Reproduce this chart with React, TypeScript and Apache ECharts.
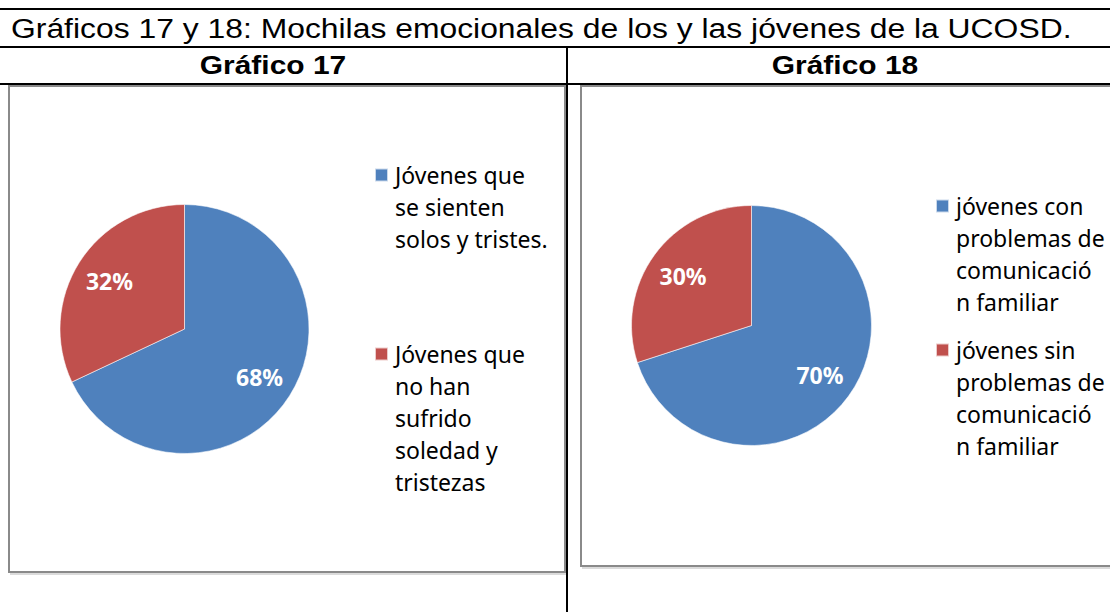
import React, { useEffect, useRef } from "react";
import * as echarts from "echarts";

const titleText = "Gráficos 17 y 18: Mochilas emocionales de los y las jóvenes de la UCOSD.";
const headerLeft = "Gráfico 17";
const headerRight = "Gráfico 18";

const chart17Labels = [
  "Jóvenes que\nse sienten\nsolos y tristes.",
  "Jóvenes que\nno han\nsufrido\nsoledad y\ntristezas",
];
const chart17Values = [68, 32];

const chart18Labels = [
  "jóvenes con\nproblemas de\ncomunicació\nn familiar",
  "jóvenes sin\nproblemas de\ncomunicació\nn familiar",
];
const chart18Values = [70, 30];

const sliceColors = ["#4F81BD", "#C0504D"];

const LH = 32;
const LEGEND_FONT = 23;

function legendFor(name: string, color: string, left: number, iconCenter: number) {
  const n = name.split("\n").length;
  const blockH = (2 * n - 1) * LH;
  return {
    show: true,
    orient: "vertical",
    left,
    top: iconCenter - blockH / 2,
    padding: 0,
    itemWidth: 13,
    itemHeight: 13,
    icon: "rect",
    selectedMode: false,
    formatter: (nm: string) => "\n".repeat(nm.split("\n").length - 1) + nm,
    textStyle: {
      fontFamily: "Noto Sans",
      fontSize: LEGEND_FONT,
      lineHeight: LH,
      color: "#000",
      padding: [0, 0, 0, 2],
    },
    data: [{ name, icon: "rect", itemStyle: { color } }],
  };
}

function pieData(labels: string[], values: number[], transparent: boolean) {
  return labels.map((name, i) => ({
    name,
    value: values[i],
    itemStyle: transparent
      ? { color: "rgba(0,0,0,0)", borderWidth: 0 }
      : { color: sliceColors[i], borderColor: "rgba(255,255,255,0.7)", borderWidth: 0.8 },
  }));
}

export default function App() {
  const ref = useRef<HTMLDivElement>(null);

  useEffect(() => {
    if (!ref.current) return;
    const chart = echarts.init(ref.current, undefined, { renderer: "svg" });

    const labelStyle = {
      show: true,
      position: "inside",
      formatter: "{c}%",
      color: "#fff",
      fontFamily: "Noto Sans",
      fontWeight: "bold",
      fontSize: 23,
    };

    const r1 = 124.5;
    const r2 = 120;

    const option: any = {
      animation: false,
      backgroundColor: "#fff",
      legend: [
        legendFor(chart17Labels[0], sliceColors[0], 374, 175),
        legendFor(chart17Labels[1], sliceColors[1], 374, 354),
        legendFor(chart18Labels[0], sliceColors[0], 935, 206),
        legendFor(chart18Labels[1], sliceColors[1], 935, 350),
      ],
      series: [
        {
          type: "pie",
          center: [184.5, 329],
          radius: [0, r1],
          startAngle: 90,
          clockwise: true,
          label: { show: false },
          labelLine: { show: false },
          emphasis: { disabled: true },
          data: pieData(chart17Labels, chart17Values, false),
        },
        {
          type: "pie",
          center: [184.5, 329],
          radius: [r1 * 0.38, r1],
          startAngle: 90,
          clockwise: true,
          silent: true,
          label: labelStyle,
          labelLine: { show: false },
          emphasis: { disabled: true },
          data: pieData(chart17Labels, chart17Values, true),
        },
        {
          type: "pie",
          center: [751.5, 325.5],
          radius: [0, r2],
          startAngle: 90,
          clockwise: true,
          label: { show: false },
          labelLine: { show: false },
          emphasis: { disabled: true },
          data: pieData(chart18Labels, chart18Values, false),
        },
        {
          type: "pie",
          center: [751.5, 325.5],
          radius: [r2 * 0.36, r2],
          startAngle: 90,
          clockwise: true,
          silent: true,
          label: labelStyle,
          labelLine: { show: false },
          emphasis: { disabled: true },
          data: pieData(chart18Labels, chart18Values, true),
        },
      ],
      graphic: [
        {
          type: "rect",
          shape: { x: 9, y: 86, width: 556, height: 486 },
          style: { fill: "none", stroke: "#8a8a8a", lineWidth: 2 },
          silent: true,
        },
        {
          type: "line",
          shape: { x1: 10, y1: 574, x2: 566, y2: 574 },
          style: { stroke: "#cfcfcf", lineWidth: 1.5 },
          silent: true,
        },
        {
          type: "rect",
          shape: { x: 581, y: 86, width: 545, height: 480 },
          style: { fill: "none", stroke: "#8a8a8a", lineWidth: 2 },
          silent: true,
        },
        {
          type: "line",
          shape: { x1: 582, y1: 568, x2: 1110, y2: 568 },
          style: { stroke: "#cfcfcf", lineWidth: 1.5 },
          silent: true,
        },
        {
          type: "line",
          shape: { x1: 0, y1: 9, x2: 1110, y2: 9 },
          style: { stroke: "#000", lineWidth: 2 },
          silent: true,
        },
        {
          type: "line",
          shape: { x1: 0, y1: 47, x2: 1110, y2: 47 },
          style: { stroke: "#000", lineWidth: 2 },
          silent: true,
        },
        {
          type: "line",
          shape: { x1: 0, y1: 84, x2: 1110, y2: 84 },
          style: { stroke: "#000", lineWidth: 2 },
          silent: true,
        },
        {
          type: "line",
          shape: { x1: 567, y1: 47, x2: 567, y2: 612 },
          style: { stroke: "#000", lineWidth: 2 },
          silent: true,
        },
        {
          type: "text",
          x: 11,
          y: 28,
          scaleX: 1.138,
          style: {
            text: titleText,
            font: '28px "Liberation Sans"',
            fill: "#000",
            textAlign: "left",
            textVerticalAlign: "middle",
          },
          silent: true,
        },
        {
          type: "text",
          x: 273,
          y: 65,
          scaleX: 1.13,
          style: {
            text: headerLeft,
            font: 'bold 26.5px "Liberation Sans"',
            fill: "#000",
            textAlign: "center",
            textVerticalAlign: "middle",
          },
          silent: true,
        },
        {
          type: "text",
          x: 845,
          y: 65,
          scaleX: 1.13,
          style: {
            text: headerRight,
            font: 'bold 26.5px "Liberation Sans"',
            fill: "#000",
            textAlign: "center",
            textVerticalAlign: "middle",
          },
          silent: true,
        },
      ],
    };

    chart.setOption(option);
    return () => chart.dispose();
  }, []);

  return (
    <div
      ref={ref}
      style={{ position: "fixed", left: 0, top: 0, width: 1110, height: 612, background: "#fff" }}
    />
  );
}
